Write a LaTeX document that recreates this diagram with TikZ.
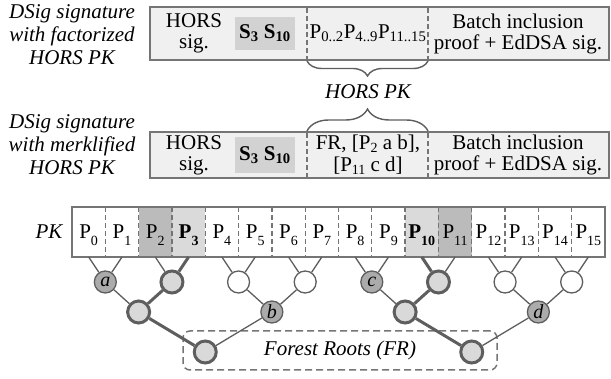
\documentclass[tikz,border=0pt]{standalone}
\usepackage{fontspec}
\setmainfont{Liberation Serif}
\usetikzlibrary{decorations.pathreplacing}
\definecolor{bordergray}{HTML}{757575}
\definecolor{linegray}{HTML}{5E5E5E}
\definecolor{boxfill}{HTML}{F0F0F0}
\definecolor{sfill}{HTML}{D2D2D2}
\definecolor{darkcell}{HTML}{BBBBBB}
\definecolor{lightcell}{HTML}{DADADA}
\definecolor{darknode}{HTML}{ABABAB}
\definecolor{lightnode}{HTML}{D9D9D9}
\newcommand\lowsub[1]{\raisebox{-7pt}{\fontsize{14}{14}\selectfont #1}}
\newcommand\midsub[1]{\raisebox{-3pt}{\fontsize{14}{14}\selectfont #1}}
\begin{document}
\begin{tikzpicture}[x=1pt,y=-1pt,
  font=\fontsize{21}{21}\selectfont,
  sigbox/.style={draw=bordergray, line width=2pt, fill=boxfill, inner sep=0pt, outer sep=0pt},
  sbox/.style={fill=sfill, minimum width=60pt, inner sep=0pt},
  divider/.style={draw=bordergray, line width=1.3pt, dash pattern=on 5pt off 3pt},
  sidelabel/.style={align=center, font=\fontsize{21}{23}\selectfont\itshape},
  cell/.style={minimum width=33.3125pt, minimum height=50pt, inner sep=0pt, outer sep=0pt},
  tnode/.style={circle, draw=linegray, line width=1.3pt, minimum size=22pt, inner sep=0pt, font=\fontsize{20}{20}\selectfont\itshape},
  hnode/.style={tnode, line width=3pt, fill=lightnode},
  dnode/.style={tnode, fill=darknode},
  wnode/.style={tnode, fill=white},
  thinedge/.style={draw=linegray, line width=1.3pt},
  thickedge/.style={draw=linegray, line width=3pt},
  bracestyle/.style={draw=linegray, line width=1.4pt, decorate},
]
\useasboundingbox (0,0) rectangle (611,379);

% ---- first signature ----
\node[sidelabel] (lab1) at (72,35) {DSig signature\\with factorized\\HORS PK};
\node[sigbox, minimum width=459pt, minimum height=53pt] (box1) at (379.5,33.5) {};
\draw[divider] (307,8) -- (307,59);
\draw[divider] (428,8) -- (428,59);
\node[align=center] (hs1) at (194,33.5) {HORS\\sig.};
\node[sbox, minimum height=33pt] (s1) at (265,33.5) {\textbf{S\textsubscript{3} S\textsubscript{10}}};
\node (pk1) at (368,33.5) {P\textsubscript{0..2}P\textsubscript{4..9}P\textsubscript{11..15}};
\node[align=center] (bi1) at (518,33.5) {Batch inclusion\\proof + EdDSA sig.};

% braces
\draw[bracestyle, decoration={brace, amplitude=15pt}] (428,61) -- (307,61);
\node[font=\fontsize{21}{21}\selectfont\itshape] (hpk) at (368,92) {HORS PK};
\draw[bracestyle, decoration={brace, amplitude=22pt}] (307,131) -- (428,131);

% ---- second signature ----
\node[sidelabel] (lab2) at (72,145) {DSig signature\\with merklified\\HORS PK};
\node[sigbox, minimum width=459pt, minimum height=46pt] (box2) at (379.5,155) {};
\draw[divider] (307,133) -- (307,177);
\draw[divider] (428,133) -- (428,177);
\node[align=center] (hs2) at (194,155) {HORS\\sig.};
\node[sbox, minimum height=36pt] (s2) at (265,155) {\textbf{S\textsubscript{3} S\textsubscript{10}}};
\node[anchor=base, inner sep=0pt] (pk2a) at (368,150) {FR, [P\midsub{2} a b],};
\node[anchor=base, inner sep=0pt] (pk2b) at (368,172) {[P\midsub{11} c d]};
\node[align=center] (bi2) at (518,155) {Batch inclusion\\proof + EdDSA sig.};

% ---- PK row ----
\node[font=\fontsize{21}{21}\selectfont\itshape] (pklab) at (49,232) {PK};
\foreach \i/\f/\t in {0/white/{P\lowsub{0}}, 1/white/{P\lowsub{1}},
  2/darkcell/{P\lowsub{2}}, 3/lightcell/{\textbf{P\lowsub{3}}},
  4/white/{P\lowsub{4}}, 5/white/{P\lowsub{5}}, 6/white/{P\lowsub{6}},
  7/white/{P\lowsub{7}}, 8/white/{P\lowsub{8}}, 9/white/{P\lowsub{9}},
  10/lightcell/{\textbf{P\lowsub{10}}}, 11/darkcell/{P\lowsub{11}},
  12/white/{P\lowsub{12}}, 13/white/{P\lowsub{13}},
  14/white/{P\lowsub{14}}, 15/white/{P\lowsub{15}}}
  \node[cell, fill=\f, text height=14pt, text depth=0pt] (c\i) at ({72+(\i+0.5)*33.3125},232) {\t};
\foreach \i in {1,...,15}
  \draw[divider] (c\i.north west) -- (c\i.south west);
\draw[draw=bordergray, line width=1.8pt] (c0.north west) rectangle (c15.south east);

% ---- forest roots box ----
\node[draw=bordergray, line width=1.5pt, dash pattern=on 7pt off 4pt, rounded corners=7pt,
  minimum width=314pt, minimum height=39pt, font=\fontsize{21}{21}\selectfont\itshape] (fr) at (340,350.5) {Forest Roots (FR)};

% ---- tree nodes ----
\node[dnode] (n0) at ({72+1*33.3125},282) {a};
\node[hnode] (n1) at ({72+3*33.3125},282) {};
\node[wnode] (n2) at ({72+5*33.3125},282) {};
\node[wnode] (n3) at ({72+7*33.3125},282) {};
\node[dnode] (n4) at ({72+9*33.3125},282) {c};
\node[hnode] (n5) at ({72+11*33.3125},282) {};
\node[wnode] (n6) at ({72+13*33.3125},282) {};
\node[wnode] (n7) at ({72+15*33.3125},282) {};
\node[hnode] (m0) at ({72+2*33.3125},312) {};
\node[dnode] (m1) at ({72+6*33.3125},312) {b};
\node[hnode] (m2) at ({72+10*33.3125},312) {};
\node[dnode] (m3) at ({72+14*33.3125},312) {d};
\node[hnode] (r0) at ({72+4*33.3125},352) {};
\node[hnode] (r1) at ({72+12*33.3125},352) {};

% ---- edges ----
\foreach \i/\k/\s in {0/0/thinedge, 1/0/thinedge, 2/1/thinedge, 3/1/thickedge,
  4/2/thinedge, 5/2/thinedge, 6/3/thinedge, 7/3/thinedge,
  8/4/thinedge, 9/4/thinedge, 10/5/thickedge, 11/5/thinedge,
  12/6/thinedge, 13/6/thinedge, 14/7/thinedge, 15/7/thinedge}
  \draw[\s] (c\i.south) -- (n\k);
\foreach \a/\b/\s in {n0/m0/thinedge, n1/m0/thickedge, n2/m1/thinedge, n3/m1/thinedge,
  n4/m2/thinedge, n5/m2/thickedge, n6/m3/thinedge, n7/m3/thinedge,
  m0/r0/thickedge, m1/r0/thinedge, m2/r1/thickedge, m3/r1/thinedge}
  \draw[\s] (\a) -- (\b);
\end{tikzpicture}
\end{document}
